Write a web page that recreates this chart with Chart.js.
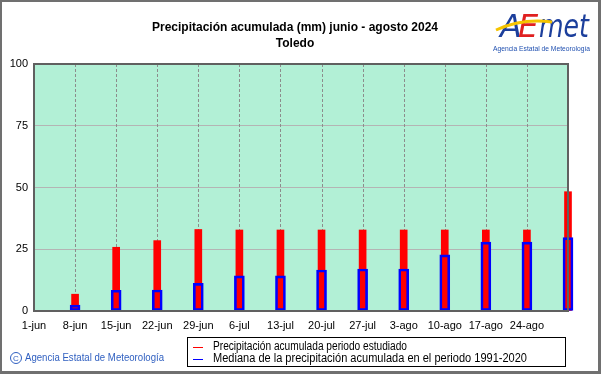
<!DOCTYPE html>
<html>
<head>
<meta charset="utf-8">
<script src="https://cdn.jsdelivr.net/npm/chart.js@4"></script>
<style>
  html, body { margin: 0; padding: 0; background: #fff; }
  #wrap { position: relative; width: 601px; height: 374px; }
  #frame { position: absolute; left: 0; top: 0; width: 596px; height: 369px; border: 2px solid #707070; border-right-width: 3px; border-bottom-width: 3px; pointer-events: none; }
</style>
</head>
<body>
<div id="wrap">
  <canvas id="chart" width="601" height="374"></canvas>
  <div id="frame"></div>
</div>
<script>
// Data
const weeks = ['1-jun', '8-jun', '15-jun', '22-jun', '29-jun', '6-jul', '13-jul', '20-jul', '27-jul', '3-ago', '10-ago', '17-ago', '24-ago', ''];
const precipitacion = [null, 6.8, 25.8, 28.5, 33, 32.8, 32.8, 32.8, 32.8, 32.8, 32.8, 32.8, 32.8, 48.3];
const mediana = [null, 2.4, 8.4, 8.5, 11.2, 14.2, 14.2, 16.6, 17, 17, 22.7, 27.9, 27.9, 29.7];
const yTicks = [0, 25, 50, 75, 100];

const FONT = 'Arial, "Liberation Sans", sans-serif';

// Title, logo, legend, plot background and frame
const decor = {
    id: 'decor',
    beforeDraw(chart) {
        const ctx = chart.ctx;
        const a = chart.chartArea;
        ctx.save();
        ctx.fillStyle = '#b2f0d6';
        ctx.fillRect(a.left, a.top, a.right - a.left, a.bottom - a.top);
        ctx.restore();
    },
    afterDatasetsDraw(chart) {
        const ctx = chart.ctx;
        const a = chart.chartArea;
        ctx.save();
        ctx.strokeStyle = '#606060';
        ctx.lineWidth = 2;
        ctx.strokeRect(a.left, a.top, a.right - a.left, a.bottom - a.top);
        ctx.restore();
    },
    afterDraw(chart) {
        const ctx = chart.ctx;
        ctx.save();
        // title
        ctx.fillStyle = '#000';
        ctx.textAlign = 'center';
        ctx.textBaseline = 'middle';
        ctx.font = 'bold 12px ' + FONT;
        ctx.fillText('Precipitación acumulada (mm) junio - agosto 2024', 295, 28);
        ctx.fillText('Toledo', 295, 44);

        // logo
        ctx.textAlign = 'left';
        ctx.textBaseline = 'alphabetic';
        ctx.font = 'italic 32px "DejaVu Sans", sans-serif';
        ctx.fillStyle = '#1c3f9c';
        ctx.fillText('A', 500, 37);
        ctx.fillStyle = '#e02020';
        ctx.fillText('E', 518, 37);
        ctx.fillStyle = '#1c3f9c';
        ctx.fillText('met', 539, 37, 50);
        ctx.strokeStyle = '#f5c400';
        ctx.lineWidth = 3;
        ctx.beginPath();
        ctx.moveTo(496, 30);
        ctx.quadraticCurveTo(522, 18, 552, 22);
        ctx.stroke();
        ctx.font = '7px ' + FONT;
        ctx.fillStyle = '#2050b0';
        ctx.fillText('Agencia Estatal de Meteorología', 493, 51, 97);

        // legend
        ctx.fillStyle = '#fff';
        ctx.fillRect(187, 337, 378, 29);
        ctx.lineWidth = 1;
        ctx.strokeStyle = '#000';
        ctx.strokeRect(187.5, 337.5, 378, 29);
        ctx.fillStyle = '#ff0000';
        ctx.fillRect(193, 347, 10, 1);
        ctx.fillStyle = '#0000ff';
        ctx.fillRect(193, 359, 10, 1);
        ctx.fillStyle = '#000';
        ctx.font = '12px ' + FONT;
        ctx.textBaseline = 'middle';
        ctx.fillText('Precipitación acumulada periodo estudiado', 213, 347, 194);
        ctx.fillText('Mediana de la precipitación acumulada en el periodo 1991-2020', 213, 359, 314);

        // copyright
        ctx.fillStyle = '#2f5fc0';
        ctx.font = '11px ' + FONT;
        ctx.fillText('Agencia Estatal de Meteorología', 25, 358, 139);
        ctx.strokeStyle = '#2f5fc0';
        ctx.beginPath();
        ctx.arc(16, 358, 5.5, 0, Math.PI * 2);
        ctx.stroke();
        ctx.font = '8px ' + FONT;
        ctx.textAlign = 'center';
        ctx.fillText('C', 16, 358.5);
        ctx.restore();
    }
};

new Chart(document.getElementById('chart'), {
    type: 'bar',
    data: {
        labels: weeks,
        datasets: [
            {
                label: 'Mediana de la precipitación acumulada en el periodo 1991-2020',
                data: mediana,
                backgroundColor: 'rgba(0,0,0,0)',
                borderColor: '#0000ff',
                borderWidth: 2,
                borderSkipped: false,
                barThickness: 10,
                grouped: false,
                order: 0,
                clip: false
            },
            {
                label: 'Precipitación acumulada periodo estudiado',
                data: precipitacion,
                backgroundColor: '#ff0000',
                borderWidth: 0,
                barThickness: 7,
                grouped: false,
                order: 1,
                clip: false
            }
        ]
    },
    options: {
        responsive: false,
        animation: false,
        layout: { padding: { left: 0, right: 33, top: 64, bottom: 43 } },
        plugins: {
            legend: { display: false },
            title: { display: false },
            tooltip: { enabled: false }
        },
        scales: {
            x: {
                offset: false,
                grid: { color: 'rgba(0,0,0,0)', drawTicks: false },
                border: { display: false },
                ticks: {
                    color: '#000',
                    font: { family: FONT, size: 11 },
                    maxRotation: 0,
                    autoSkip: false,
                    padding: 8
                },
                afterFit(scale) { scale.height = 20; }
            },
            y: {
                min: 0,
                max: 100,
                afterBuildTicks(scale) { scale.ticks = yTicks.map(v => ({ value: v })); },
                grid: { color: '#b4b4b4', lineWidth: 1, drawTicks: false },
                border: { display: false },
                ticks: {
                    color: '#000',
                    font: { family: FONT, size: 11 },
                    padding: 6
                },
                afterFit(scale) { scale.width = 34; }
            }
        }
    },
    plugins: [decor, {
        id: 'dashX',
        beforeDatasetsDraw(chart) {
            // dashed vertical grid lines at each week
            const ctx = chart.ctx;
            const a = chart.chartArea;
            const xs = chart.scales.x;
            ctx.save();
            ctx.strokeStyle = '#8c8c8c';
            ctx.lineWidth = 1;
            ctx.setLineDash([3, 2]);
            weeks.forEach((w, i) => {
                const x = Math.round(xs.getPixelForValue(i)) + 0.5;
                ctx.beginPath();
                ctx.moveTo(x, a.top);
                ctx.lineTo(x, a.bottom);
                ctx.stroke();
            });
            ctx.restore();
        }
    }]
});
</script>
</body>
</html>
